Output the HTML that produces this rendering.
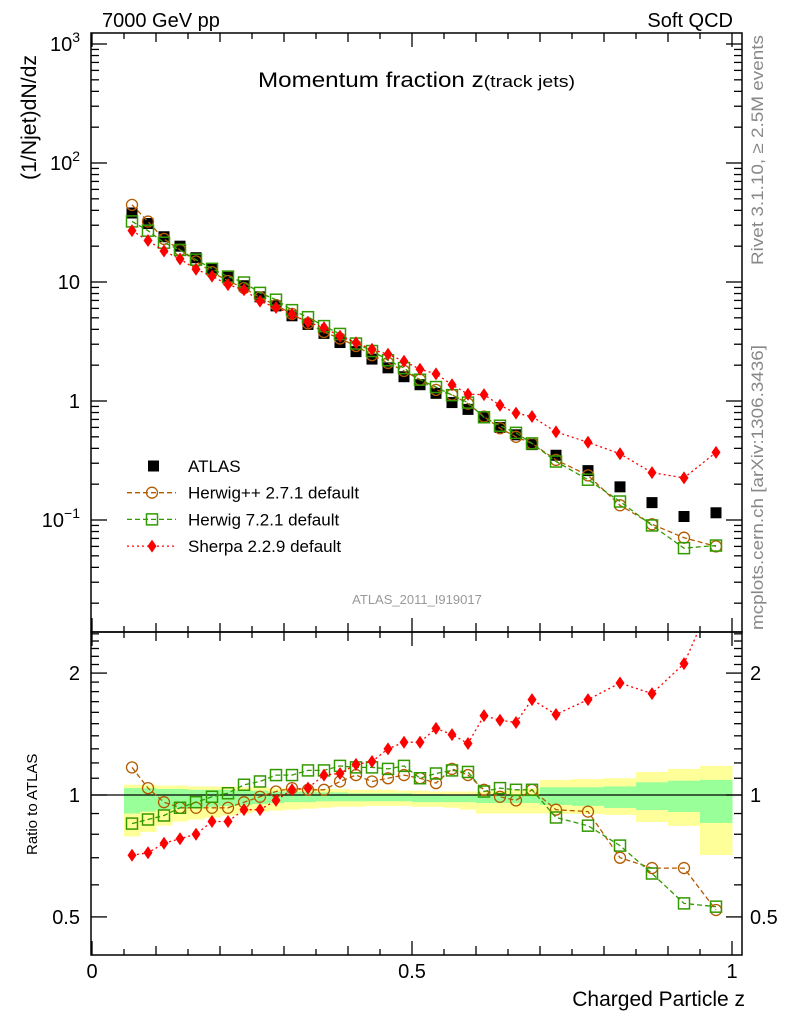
<!DOCTYPE html>
<html><head><meta charset="utf-8"><style>
body{margin:0;background:#fff;}
svg{display:block;font-family:"Liberation Sans",sans-serif;}
</style></head><body>
<svg id="chart" width="786" height="1024" viewBox="0 0 786 1024" xmlns="http://www.w3.org/2000/svg">
<g id="bands"></g>
<g id="marks"></g>
<g id="axes"></g>
<text x="102" y="27" font-size="20">7000 GeV pp</text>
<text x="733" y="27" font-size="20" text-anchor="end">Soft QCD</text>
<text x="258" y="87" font-size="21" textLength="317" lengthAdjust="spacingAndGlyphs">Momentum fraction z<tspan font-size="17">(track jets)</tspan></text>
<text transform="translate(36,180) rotate(-90)" font-size="21" textLength="125" lengthAdjust="spacingAndGlyphs">(1/Njet)dN/dz</text>
<text transform="translate(37,855) rotate(-90)" font-size="15">Ratio to ATLAS</text>
<text x="745" y="1006" font-size="21" text-anchor="end">Charged Particle z</text>
<text transform="translate(763,265) rotate(-90)" font-size="17" fill="#888" textLength="230" lengthAdjust="spacingAndGlyphs">Rivet 3.1.10, ≥ 2.5M events</text>
<text transform="translate(763,630) rotate(-90)" font-size="17" fill="#888" textLength="285" lengthAdjust="spacingAndGlyphs">mcplots.cern.ch [arXiv:1306.3436]</text>
<text x="417" y="604" font-size="13" fill="#999" text-anchor="middle">ATLAS_2011_I919017</text>
<g id="legend"></g>
</svg>
<script>
const binLo=[0.05,0.075,0.1,0.125,0.15,0.175,0.2,0.225,0.25,0.275,0.3,0.325,0.35,0.375,0.4,0.425,0.45,0.475,0.5,0.525,0.55,0.575,0.6,0.625,0.65,0.675,0.7,0.75,0.8,0.85,0.9,0.95];
const binHi=[0.075,0.1,0.125,0.15,0.175,0.2,0.225,0.25,0.275,0.3,0.325,0.35,0.375,0.4,0.425,0.45,0.475,0.5,0.525,0.55,0.575,0.6,0.625,0.65,0.675,0.7,0.75,0.8,0.85,0.9,0.95,1.0];
const atlas=[38,31,24,20,16,13,11,9.3,7.5,6.3,5.2,4.4,3.7,3.1,2.6,2.25,1.9,1.6,1.37,1.16,0.97,0.85,0.72,0.6,0.52,0.43,0.35,0.26,0.19,0.14,0.107,0.115];
const herwigpp=[44.5,32.2,23,18.6,14.9,12.1,10.2,8.9,7.4,6.4,5.4,4.5,3.8,3.35,2.9,2.43,2.09,1.79,1.51,1.24,1.13,0.95,0.74,0.59,0.50,0.44,0.32,0.237,0.133,0.092,0.071,0.060];
const herwig7=[32.3,27,21.4,18.6,15.4,12.9,11.1,9.9,8.1,7.1,5.8,5.06,4.26,3.66,3.04,2.63,2.2,1.89,1.51,1.31,1.12,0.97,0.73,0.62,0.54,0.44,0.31,0.218,0.143,0.09,0.058,0.061];
const sherpa=[27,22.3,18.2,15.6,12.8,11.2,9.5,8.6,6.9,6.1,5.36,4.58,4.14,3.5,3.09,2.72,2.47,2.16,1.85,1.69,1.37,1.14,1.13,0.92,0.79,0.74,0.55,0.45,0.36,0.25,0.226,0.37];
const ratioHpp=[1.17,1.04,0.96,0.93,0.93,0.93,0.93,0.96,0.99,1.02,1.04,1.03,1.03,1.08,1.12,1.08,1.10,1.12,1.10,1.07,1.16,1.12,1.03,0.99,0.97,1.03,0.92,0.91,0.70,0.66,0.66,0.52];
const ratioH7=[0.85,0.87,0.89,0.93,0.96,0.99,1.01,1.06,1.08,1.12,1.12,1.15,1.15,1.18,1.17,1.17,1.16,1.18,1.10,1.13,1.15,1.14,1.02,1.04,1.03,1.03,0.88,0.84,0.75,0.64,0.54,0.53];
const ratioSherpa=[0.71,0.72,0.76,0.78,0.80,0.86,0.86,0.92,0.92,0.97,1.03,1.04,1.12,1.13,1.19,1.21,1.30,1.35,1.35,1.46,1.41,1.34,1.57,1.53,1.51,1.72,1.58,1.72,1.89,1.78,2.11,3.2];
const yellowHi=[1.06,1.06,1.055,1.055,1.05,1.05,1.05,1.045,1.045,1.04,1.04,1.04,1.035,1.035,1.03,1.03,1.03,1.025,1.025,1.02,1.02,1.02,1.02,1.025,1.03,1.04,1.09,1.095,1.10,1.14,1.16,1.18];
const yellowLo=[0.79,0.81,0.84,0.86,0.87,0.88,0.89,0.9,0.91,0.915,0.92,0.925,0.93,0.935,0.935,0.94,0.94,0.94,0.935,0.935,0.93,0.92,0.9,0.9,0.9,0.9,0.9,0.898,0.893,0.858,0.839,0.711];
const greenHi=[1.04,1.04,1.035,1.035,1.03,1.03,1.03,1.025,1.025,1.02,1.02,1.02,1.015,1.015,1.01,1.01,1.01,1.01,1.005,1.005,1.0,1.0,1.0,1.0,1.0,1.0,1.045,1.045,1.05,1.075,1.085,1.09];
const greenLo=[0.9,0.91,0.92,0.925,0.93,0.935,0.94,0.945,0.95,0.955,0.96,0.96,0.965,0.965,0.965,0.965,0.965,0.965,0.96,0.96,0.96,0.96,0.955,0.955,0.955,0.955,0.945,0.94,0.929,0.918,0.908,0.853];
const xTickLabels=["0","0.5","1"];
const xTickValues=[0,0.5,1];
const mainTickValues=[1000,100,10,1,0.1];
const ratioTickValues=[2,1,0.5];

const NS="http://www.w3.org/2000/svg";
const X0=91,X1=742,ZX0=92,ZX1=732;
const MT=33,MB=632,RT=632,RB=955;
function xs(z){return ZX0+(ZX1-ZX0)*z;}
function ym(v){return 401-119*Math.log10(v);}
function yr(r){return 795-405*Math.log10(r);}
function mk(tag,attrs,parent){const e=document.createElementNS(NS,tag);for(const k in attrs)e.setAttribute(k,attrs[k]);parent.appendChild(e);return e;}
const bands=document.getElementById('bands'),marks=document.getElementById('marks'),axes=document.getElementById('axes'),legend=document.getElementById('legend');

const defs=mk('defs',{},document.getElementById('chart'));
const cm=mk('clipPath',{id:'cm'},defs);mk('rect',{x:X0,y:MT,width:X1-X0,height:MB-MT},cm);
const cr=mk('clipPath',{id:'cr'},defs);mk('rect',{x:X0,y:RT,width:X1-X0,height:RB-RT},cr);

for(let i=0;i<binLo.length;i++){
  const y=mk('rect',{x:xs(binLo[i]),y:yr(yellowHi[i]),width:xs(binHi[i])-xs(binLo[i])+0.5,height:yr(yellowLo[i])-yr(yellowHi[i]),fill:'#ffff99'},bands);
  
  
  const g=mk('rect',{x:xs(binLo[i]),y:yr(greenHi[i]),width:xs(binHi[i])-xs(binLo[i])+0.5,height:yr(greenLo[i])-yr(greenHi[i]),fill:'#99ff99'},bands);
  
  
}
const one=mk('line',{x1:X0,x2:X1,y1:yr(1),y2:yr(1),stroke:'#000','stroke-width':1.3},bands);



const zc=binLo.map((l,i)=>(l+binHi[i])/2);

function marker(type,cx,cy,color,g){
  let e;
  if(type==='circle')e=mk('circle',{cx:cx,cy:cy,r:5.5,fill:'none',stroke:color,'stroke-width':1.3},g);
  else if(type==='square')e=mk('rect',{x:cx-5.5,y:cy-5.5,width:11,height:11,fill:'none',stroke:color,'stroke-width':1.5},g);
  else if(type==='diamond')e=mk('polygon',{points:`${cx},${cy-6.5} ${cx+4.5},${cy} ${cx},${cy+6.5} ${cx-4.5},${cy}`,fill:color},g);
  else e=mk('rect',{x:cx-5.5,y:cy-5.5,width:11,height:11,fill:color},g);
  return e;
}
function series(name,vals,yf,clip,type,color,dash,withLine){
  const g=mk('g',{'clip-path':`url(#${clip})`},marks);
  
  
  if(withLine){
    const pts=vals.map((v,i)=>`${xs(zc[i]).toFixed(1)},${yf(v).toFixed(1)}`).join(' ');
    const l=mk('polyline',{points:pts,fill:'none',stroke:color,'stroke-width':1.3,'stroke-dasharray':dash},g);
    
    
  }
  vals.forEach((v,i)=>{
    const m=marker(type,xs(zc[i]),yf(v),color,g);
    
    
  });
}
series('atlas-data',atlas,ym,'cm','fill','#000','',false);
series('herwigpp-main',herwigpp,ym,'cm','circle','#b35a00','5,3',true);
series('herwig7-main',herwig7,ym,'cm','square','#339900','5,3',true);
series('sherpa-main',sherpa,ym,'cm','diamond','#ff0000','2,3',true);
series('herwigpp-ratio',ratioHpp,yr,'cr','circle','#b35a00','5,3',true);
series('herwig7-ratio',ratioH7,yr,'cr','square','#339900','5,3',true);
series('sherpa-ratio',ratioSherpa,yr,'cr','diamond','#ff0000','2,3',true);

[[MT,MB],[RT,RB]].forEach(([t,b],k)=>{
  const f=mk('rect',{x:X0,y:t,width:X1-X0,height:b-t,fill:'none',stroke:'#000','stroke-width':1.5},axes);
  
  
  for(let i=0;i<=20;i++){
    const z=i*0.05,x=xs(z),len=(i%10===0)?14:(i%2===0?9:6);
    mk('line',{x1:x,x2:x,y1:b,y2:b-len,stroke:'#000','stroke-width':1.3},axes);
    mk('line',{x1:x,x2:x,y1:t,y2:t+len,stroke:'#000','stroke-width':1.3},axes);
  }
});
xTickValues.forEach((v,i)=>{
  const t=mk('text',{x:xs(v),y:978,'font-size':20,'text-anchor':'middle'},axes);t.textContent=xTickLabels[i];
  
  
});
for(let e=-2;e<=3;e++){
  for(let m=1;m<10;m++){
    const v=m*Math.pow(10,e),y=ym(v);
    if(y<MT||y>MB)continue;
    const len=m===1?16:8;
    mk('line',{x1:X0,x2:X0+len,y1:y,y2:y,stroke:'#000','stroke-width':1.3},axes);
    mk('line',{x1:X1,x2:X1-len,y1:y,y2:y,stroke:'#000','stroke-width':1.3},axes);
  }
}
mainTickValues.forEach(v=>{
  const t=mk('text',{x:80,y:ym(v)+7,'font-size':20,'text-anchor':'end'},axes);
  
  
  const e=Math.round(Math.log10(v));
  if(e===1)t.textContent='10';
  else if(e===0)t.textContent='1';
  else{t.textContent='10';const s=mk('tspan',{dy:-9,'font-size':14},t);s.textContent=(e<0?'−':'')+Math.abs(e);}
});
for(let k=4;k<=25;k++){
  const v=k/10,y=yr(v);if(y<RT||y>RB)continue;
  const len=(k===5||k===10||k===20)?16:8;
  mk('line',{x1:X0,x2:X0+len,y1:y,y2:y,stroke:'#000','stroke-width':1.3},axes);
  mk('line',{x1:X1,x2:X1-len,y1:y,y2:y,stroke:'#000','stroke-width':1.3},axes);
}
ratioTickValues.forEach(v=>{
  [[80,'end'],[750,'start']].forEach(([x,a])=>{
    const t=mk('text',{x:x,y:yr(v)+7,'font-size':20,'text-anchor':a},axes);t.textContent=String(v);
    
    
  });
});
const leg=[['ATLAS','fill','#000','',false],['Herwig++ 2.7.1 default','circle','#b35a00','5,3',true],['Herwig 7.2.1 default','square','#339900','5,3',true],['Sherpa 2.2.9 default','diamond','#ff0000','2,3',true]];
leg.forEach((d,i)=>{
  const y=466+i*26.7;
  const g=mk('g',{},legend);
  
  
  if(d[4])mk('line',{x1:127,x2:176,y1:y,y2:y,stroke:d[2],'stroke-width':1.3,'stroke-dasharray':d[3]},g);
  if(d[1]==='fill')mk('rect',{x:148,y:y-5.5,width:11,height:11,fill:'#000'},g);
  else marker(d[1],152,y,d[2],g);
  const t=mk('text',{x:188,y:y+6,'font-size':17},g);t.textContent=d[0];
});
</script>
</body></html>
